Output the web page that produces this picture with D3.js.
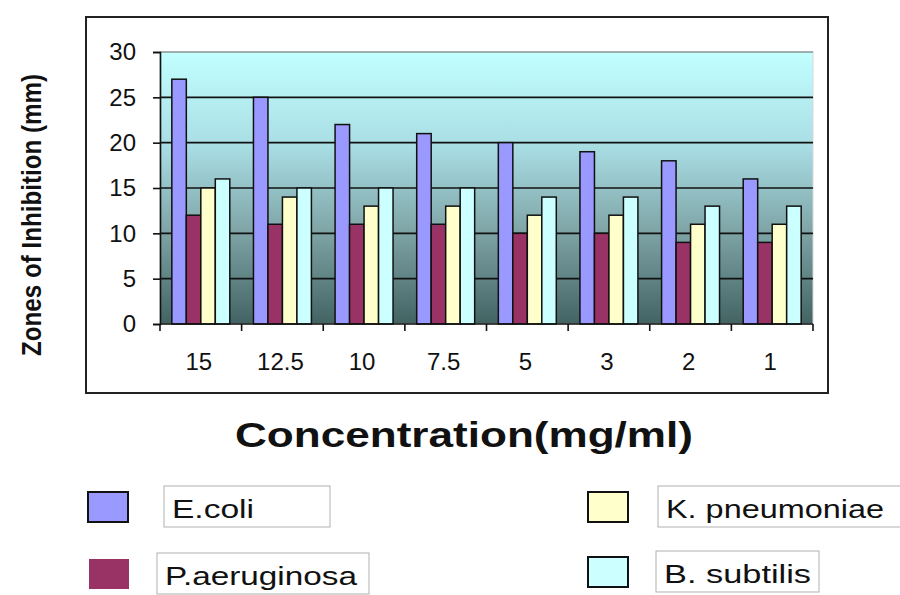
<!DOCTYPE html>
<html>
<head>
<meta charset="utf-8">
<script src="https://cdn.jsdelivr.net/npm/d3@7"></script>
<style>
  body { margin: 0; background: #ffffff; }
  svg { display: block; }
  text { font-family: Arial, "Liberation Sans", sans-serif; fill: #111; }
</style>
</head>
<body>
<div id="chart"></div>
<script>
// data
var concentrations = ["15", "12.5", "10", "7.5", "5", "3", "2", "1"];
var organisms = ["E.coli", "P.aeruginosa", "K. pneumoniae", "B. subtilis"];
var ecoli = [27, 25, 22, 21, 20, 19, 18, 16];
var paeruginosa = [12, 11, 11, 11, 10, 10, 9, 9];
var kpneumoniae = [15, 14, 13, 13, 12, 12, 11, 11];
var bsubtilis = [16, 15, 15, 15, 14, 14, 13, 13];
var yTicks = [0, 5, 10, 15, 20, 25, 30];

var seriesValues = [ecoli, paeruginosa, kpneumoniae, bsubtilis];
var colors = ["#9999ff", "#993366", "#ffffcc", "#ccffff"];

var svgWidth = 900;
var svgHeight = 595;

var plot = { left: 160, right: 813, top: 52, bottom: 324 };

var svg = d3.select("#chart")
  .append("svg")
  .attr("width", svgWidth)
  .attr("height", svgHeight);

// background gradient of the plot area
var defs = svg.append("defs");
var grad = defs.append("linearGradient")
  .attr("id", "bg")
  .attr("x1", 0).attr("y1", 0).attr("x2", 0).attr("y2", 1);
grad.append("stop").attr("offset", "0%").attr("stop-color", "#c2ffff");
grad.append("stop").attr("offset", "35%").attr("stop-color", "#a8dde4");
grad.append("stop").attr("offset", "65%").attr("stop-color", "#80a6a8");
grad.append("stop").attr("offset", "100%").attr("stop-color", "#436363");

// outer chart box
svg.append("rect")
  .attr("x", 86).attr("y", 17)
  .attr("width", 742).attr("height", 376)
  .attr("fill", "#ffffff")
  .attr("stroke", "#222")
  .attr("stroke-width", 2);

// scales
var x0 = d3.scaleBand()
  .domain(concentrations)
  .range([plot.left, plot.right])
  .paddingInner(0.29)
  .paddingOuter(0.145);

var x1 = d3.scaleBand()
  .domain(organisms)
  .range([0, x0.bandwidth()]);

var y = d3.scaleLinear()
  .domain([0, 30])
  .range([plot.bottom, plot.top]);

svg.append("rect")
  .attr("x", plot.left).attr("y", plot.top)
  .attr("width", plot.right - plot.left)
  .attr("height", plot.bottom - plot.top)
  .attr("fill", "url(#bg)")
  .attr("stroke", "#d8d8d8")
  .attr("stroke-width", 1);

// gridlines
svg.append("g")
  .selectAll("line")
  .data(yTicks.filter(d => d > 0))
  .enter()
  .append("line")
  .attr("x1", plot.left).attr("x2", plot.right)
  .attr("y1", d => y(d)).attr("y2", d => y(d))
  .attr("stroke", d => d === 30 ? "#8a9a9a" : "#111")
  .attr("stroke-width", 1.6);

// bars
var groups = svg.append("g")
  .selectAll("g")
  .data(concentrations)
  .enter()
  .append("g")
  .attr("transform", d => `translate(${x0(d)},0)`);

groups.selectAll("rect")
  .data((c, i) => organisms.map((o, j) => ({ org: o, value: seriesValues[j][i], color: colors[j] })))
  .enter()
  .append("rect")
  .attr("x", d => x1(d.org))
  .attr("y", d => y(d.value))
  .attr("width", x1.bandwidth())
  .attr("height", d => y(0) - y(d.value))
  .attr("fill", d => d.color)
  .attr("stroke", "#111")
  .attr("stroke-width", 1.5);

// y axis
var leftAxis = d3.axisLeft(y).tickValues(yTicks).tickSize(7).tickPadding(17);
var yAxisG = svg.append("g")
  .attr("transform", `translate(${plot.left},0)`)
  .call(leftAxis);
yAxisG.select(".domain").attr("stroke", "#111").attr("stroke-width", 1.6);
yAxisG.selectAll(".tick line").attr("stroke", "#111").attr("stroke-width", 1.6);
yAxisG.selectAll(".tick text")
  .style("font-family", "Arial, 'Liberation Sans', sans-serif")
  .style("font-size", "24px")
  .attr("fill", "#222");

// x axis: ticks sit on the category boundaries
var boundaries = d3.range(concentrations.length + 1).map(i => plot.left + i * x0.step());
var xAxisG = svg.append("g");
xAxisG.append("line")
  .attr("x1", plot.left).attr("x2", plot.right)
  .attr("y1", plot.bottom).attr("y2", plot.bottom)
  .attr("stroke", "#111").attr("stroke-width", 1.6);
xAxisG.selectAll("line.tk")
  .data(boundaries)
  .enter()
  .append("line")
  .attr("class", "tk")
  .attr("x1", d => d).attr("x2", d => d)
  .attr("y1", plot.bottom).attr("y2", plot.bottom + 7)
  .attr("stroke", "#111").attr("stroke-width", 1.6);
xAxisG.selectAll("text")
  .data(concentrations)
  .enter()
  .append("text")
  .attr("x", d => x0(d) + x0.bandwidth() / 2 - 2)
  .attr("y", 370)
  .attr("text-anchor", "middle")
  .style("font-size", "24px")
  .attr("fill", "#222")
  .text(d => d);

// axis titles
svg.append("text")
  .attr("transform", "translate(41,215) rotate(-90)")
  .attr("text-anchor", "middle")
  .attr("textLength", 282)
  .attr("lengthAdjust", "spacingAndGlyphs")
  .style("font-size", "27px")
  .style("font-weight", "bold")
  .text("Zones of Inhibition (mm)");

svg.append("text")
  .attr("x", 235)
  .attr("y", 447)
  .attr("textLength", 458)
  .attr("lengthAdjust", "spacingAndGlyphs")
  .style("font-size", "35px")
  .style("font-weight", "bold")
  .text("Concentration(mg/ml)");

// legend
var legendSwatchX = [88, 89, 588, 588];
var legendRowY = [492, 559, 492, 557];
var legendBoxX = [164, 157, 658, 656];
var legendBoxW = [166, 212, 250, 163];
var legendTextLen = [82, 192, 218, 147];

var legend = svg.append("g")
  .selectAll("g")
  .data(organisms)
  .enter()
  .append("g");

legend.append("rect")
  .attr("x", (d, i) => legendSwatchX[i])
  .attr("y", (d, i) => legendRowY[i])
  .attr("width", 40)
  .attr("height", 30)
  .attr("fill", (d, i) => colors[i])
  .attr("stroke", (d, i) => i === 1 ? "none" : "#111")
  .attr("stroke-width", 2);

legend.append("rect")
  .attr("x", (d, i) => legendBoxX[i])
  .attr("y", (d, i) => legendRowY[i] - 6)
  .attr("width", (d, i) => legendBoxW[i])
  .attr("height", 41)
  .attr("fill", "#ffffff")
  .attr("stroke", "#b0b0b0")
  .attr("stroke-width", 1);

legend.append("text")
  .attr("x", (d, i) => legendBoxX[i] + 8)
  .attr("y", (d, i) => legendRowY[i] + 26)
  .attr("textLength", (d, i) => legendTextLen[i])
  .attr("lengthAdjust", "spacingAndGlyphs")
  .style("font-size", "26px")
  .attr("fill", "#111")
  .text(d => d);
</script>
</body>
</html>
